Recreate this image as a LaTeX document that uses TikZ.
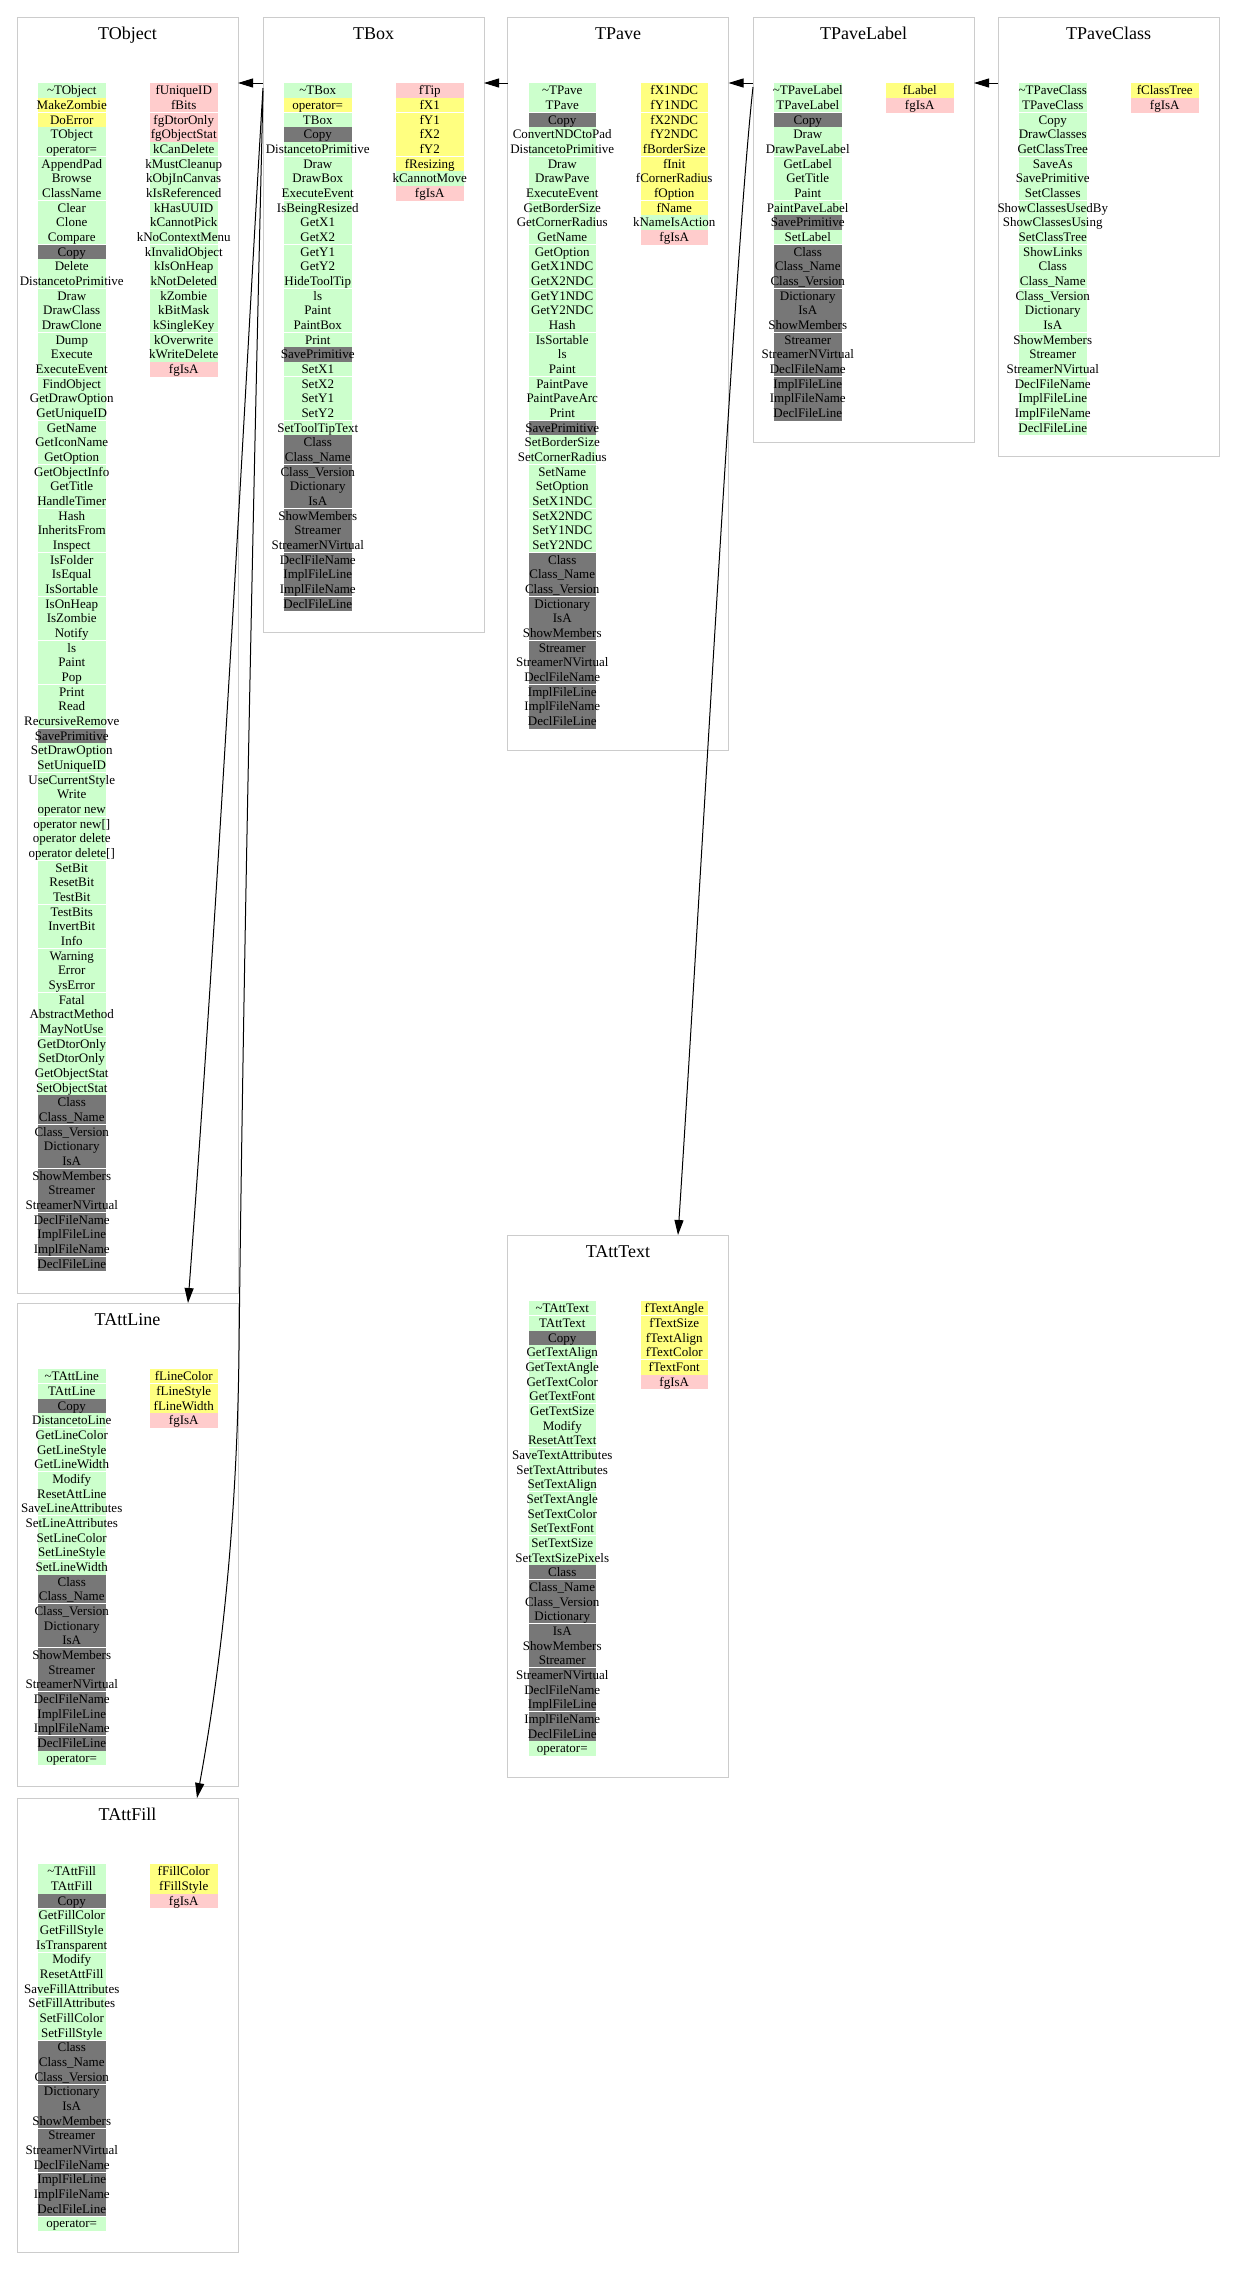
\documentclass[tikz,border=0pt]{standalone}
\usepackage{fontspec}
\setmainfont{Liberation Serif}
\usetikzlibrary{arrows.meta,calc}
\definecolor{gr}{HTML}{CCFFCC}
\definecolor{ye}{HTML}{FFFF80}
\definecolor{pk}{HTML}{FFCCCC}
\definecolor{dk}{HTML}{777777}
\definecolor{frm}{HTML}{CCCCCC}
\tikzset{
 classframe/.style={draw=frm, line width=1pt, inner sep=0pt, outer sep=0pt, minimum width=221pt, anchor=north west},
 classtitle/.style={font=\fontsize{18}{20}\selectfont, inner sep=0pt, anchor=base},
 cellbox/.style={inner sep=0pt, outer sep=0pt, minimum width=67.5pt, minimum height=14.67pt, draw=none},
 celltext/.style={font=\fontsize{13}{14}\selectfont, inner sep=0pt, anchor=base},
 cellsep/.style={white, line width=0.9pt},
 edge/.style={draw=black, line width=1pt, -{Triangle[length=15pt,width=9pt]}},
}
% name, left, top, rows, separator offset, methods, members
\newcommand\ClassBox[7]{%
  \pgfmathsetmacro\cbH{102.5+(#4-1)*14.67}%
  \node[classframe, minimum height=\cbH pt] (#1) at (#2,#3) {};
  \node[classtitle] (#1-title) at (#2+110.5,#3+22) {#1};
  \foreach[count=\ci] \mcol/\mtxt in {#6}{
    \pgfmathsetmacro\cy{#3+73.5+(\ci-1)*14.67}
    \node[cellbox, fill=\mcol] (#1-mc\ci) at (#2+54.75,\cy) {};
    \pgfmathtruncatemacro\cm{mod(\ci-1,3)}
    \ifnum\ci>1 \ifnum\cm=#5\relax
      \draw[cellsep] (#1-mc\ci.north west) -- (#1-mc\ci.north east);
    \fi\fi
    \node[celltext] (#1-mt\ci) at (#2+54.75,\cy+4.2) {\mtxt};
  }
  \foreach[count=\ci] \mcol/\mtxt in {#7}{
    \pgfmathsetmacro\cy{#3+73.5+(\ci-1)*14.67}
    \node[cellbox, fill=\mcol] (#1-fc\ci) at (#2+166.75,\cy) {};
    \pgfmathtruncatemacro\cm{mod(\ci-1,3)}
    \ifnum\ci>1 \ifnum\cm=#5\relax
      \draw[cellsep] (#1-fc\ci.north west) -- (#1-fc\ci.north east);
    \fi\fi
    \node[celltext] (#1-ft\ci) at (#2+166.75,\cy+4.2) {\mtxt};
  }
}
\begin{document}
\begin{tikzpicture}[x=1pt,y=-1pt]
\path[use as bounding box, fill=white] (0,0) rectangle (1235,2279);

\ClassBox{TObject}{17}{17}{81}{2}{gr/\textasciitilde TObject, ye/MakeZombie, ye/DoError, gr/TObject, gr/operator=, gr/AppendPad, gr/Browse, gr/ClassName, gr/Clear, gr/Clone, gr/Compare, dk/Copy, gr/Delete, gr/DistancetoPrimitive, gr/Draw, gr/DrawClass, gr/DrawClone, gr/Dump, gr/Execute, gr/ExecuteEvent, gr/FindObject, gr/GetDrawOption, gr/GetUniqueID, gr/GetName, gr/GetIconName, gr/GetOption, gr/GetObjectInfo, gr/GetTitle, gr/HandleTimer, gr/Hash, gr/InheritsFrom, gr/Inspect, gr/IsFolder, gr/IsEqual, gr/IsSortable, gr/IsOnHeap, gr/IsZombie, gr/Notify, gr/ls, gr/Paint, gr/Pop, gr/Print, gr/Read, gr/RecursiveRemove, dk/SavePrimitive, gr/SetDrawOption, gr/SetUniqueID, gr/UseCurrentStyle, gr/Write, gr/operator new, gr/{operator new[]}, gr/operator delete, gr/{operator delete[]}, gr/SetBit, gr/ResetBit, gr/TestBit, gr/TestBits, gr/InvertBit, gr/Info, gr/Warning, gr/Error, gr/SysError, gr/Fatal, gr/AbstractMethod, gr/MayNotUse, gr/GetDtorOnly, gr/SetDtorOnly, gr/GetObjectStat, gr/SetObjectStat, dk/Class, dk/Class\_Name, dk/Class\_Version, dk/Dictionary, dk/IsA, dk/ShowMembers, dk/Streamer, dk/StreamerNVirtual, dk/DeclFileName, dk/ImplFileLine, dk/ImplFileName, dk/DeclFileLine}{pk/fUniqueID, pk/fBits, pk/fgDtorOnly, pk/fgObjectStat, gr/kCanDelete, gr/kMustCleanup, gr/kObjInCanvas, gr/kIsReferenced, gr/kHasUUID, gr/kCannotPick, gr/kNoContextMenu, gr/kInvalidObject, gr/kIsOnHeap, gr/kNotDeleted, gr/kZombie, gr/kBitMask, gr/kSingleKey, gr/kOverwrite, gr/kWriteDelete, pk/fgIsA}

\ClassBox{TBox}{263}{17}{36}{2}{gr/\textasciitilde TBox, ye/operator=, gr/TBox, dk/Copy, gr/DistancetoPrimitive, gr/Draw, gr/DrawBox, gr/ExecuteEvent, gr/IsBeingResized, gr/GetX1, gr/GetX2, gr/GetY1, gr/GetY2, gr/HideToolTip, gr/ls, gr/Paint, gr/PaintBox, gr/Print, dk/SavePrimitive, gr/SetX1, gr/SetX2, gr/SetY1, gr/SetY2, gr/SetToolTipText, dk/Class, dk/Class\_Name, dk/Class\_Version, dk/Dictionary, dk/IsA, dk/ShowMembers, dk/Streamer, dk/StreamerNVirtual, dk/DeclFileName, dk/ImplFileLine, dk/ImplFileName, dk/DeclFileLine}{pk/fTip, ye/fX1, ye/fY1, ye/fX2, ye/fY2, ye/fResizing, gr/kCannotMove, pk/fgIsA}

\ClassBox{TPave}{507.5}{17}{44}{2}{gr/\textasciitilde TPave, gr/TPave, dk/Copy, gr/ConvertNDCtoPad, gr/DistancetoPrimitive, gr/Draw, gr/DrawPave, gr/ExecuteEvent, gr/GetBorderSize, gr/GetCornerRadius, gr/GetName, gr/GetOption, gr/GetX1NDC, gr/GetX2NDC, gr/GetY1NDC, gr/GetY2NDC, gr/Hash, gr/IsSortable, gr/ls, gr/Paint, gr/PaintPave, gr/PaintPaveArc, gr/Print, dk/SavePrimitive, gr/SetBorderSize, gr/SetCornerRadius, gr/SetName, gr/SetOption, gr/SetX1NDC, gr/SetX2NDC, gr/SetY1NDC, gr/SetY2NDC, dk/Class, dk/Class\_Name, dk/Class\_Version, dk/Dictionary, dk/IsA, dk/ShowMembers, dk/Streamer, dk/StreamerNVirtual, dk/DeclFileName, dk/ImplFileLine, dk/ImplFileName, dk/DeclFileLine}{ye/fX1NDC, ye/fY1NDC, ye/fX2NDC, ye/fY2NDC, ye/fBorderSize, ye/fInit, ye/fCornerRadius, ye/fOption, ye/fName, gr/kNameIsAction, pk/fgIsA}

\ClassBox{TPaveLabel}{753}{17}{23}{2}{gr/\textasciitilde TPaveLabel, gr/TPaveLabel, dk/Copy, gr/Draw, gr/DrawPaveLabel, gr/GetLabel, gr/GetTitle, gr/Paint, gr/PaintPaveLabel, dk/SavePrimitive, gr/SetLabel, dk/Class, dk/Class\_Name, dk/Class\_Version, dk/Dictionary, dk/IsA, dk/ShowMembers, dk/Streamer, dk/StreamerNVirtual, dk/DeclFileName, dk/ImplFileLine, dk/ImplFileName, dk/DeclFileLine}{ye/fLabel, pk/fgIsA}

\ClassBox{TPaveClass}{998}{17}{24}{2}{gr/\textasciitilde TPaveClass, gr/TPaveClass, gr/Copy, gr/DrawClasses, gr/GetClassTree, gr/SaveAs, gr/SavePrimitive, gr/SetClasses, gr/ShowClassesUsedBy, gr/ShowClassesUsing, gr/SetClassTree, gr/ShowLinks, gr/Class, gr/Class\_Name, gr/Class\_Version, gr/Dictionary, gr/IsA, gr/ShowMembers, gr/Streamer, gr/StreamerNVirtual, gr/DeclFileName, gr/ImplFileLine, gr/ImplFileName, gr/DeclFileLine}{ye/fClassTree, pk/fgIsA}

\ClassBox{TAttLine}{17}{1303}{27}{1}{gr/\textasciitilde TAttLine, gr/TAttLine, dk/Copy, gr/DistancetoLine, gr/GetLineColor, gr/GetLineStyle, gr/GetLineWidth, gr/Modify, gr/ResetAttLine, gr/SaveLineAttributes, gr/SetLineAttributes, gr/SetLineColor, gr/SetLineStyle, gr/SetLineWidth, dk/Class, dk/Class\_Name, dk/Class\_Version, dk/Dictionary, dk/IsA, dk/ShowMembers, dk/Streamer, dk/StreamerNVirtual, dk/DeclFileName, dk/ImplFileLine, dk/ImplFileName, dk/DeclFileLine, gr/operator=}{ye/fLineColor, ye/fLineStyle, ye/fLineWidth, pk/fgIsA}

\ClassBox{TAttFill}{17}{1798}{25}{0}{gr/\textasciitilde TAttFill, gr/TAttFill, dk/Copy, gr/GetFillColor, gr/GetFillStyle, gr/IsTransparent, gr/Modify, gr/ResetAttFill, gr/SaveFillAttributes, gr/SetFillAttributes, gr/SetFillColor, gr/SetFillStyle, dk/Class, dk/Class\_Name, dk/Class\_Version, dk/Dictionary, dk/IsA, dk/ShowMembers, dk/Streamer, dk/StreamerNVirtual, dk/DeclFileName, dk/ImplFileLine, dk/ImplFileName, dk/DeclFileLine, gr/operator=}{ye/fFillColor, ye/fFillStyle, pk/fgIsA}

\ClassBox{TAttText}{507.5}{1235}{31}{1}{gr/\textasciitilde TAttText, gr/TAttText, dk/Copy, gr/GetTextAlign, gr/GetTextAngle, gr/GetTextColor, gr/GetTextFont, gr/GetTextSize, gr/Modify, gr/ResetAttText, gr/SaveTextAttributes, gr/SetTextAttributes, gr/SetTextAlign, gr/SetTextAngle, gr/SetTextColor, gr/SetTextFont, gr/SetTextSize, gr/SetTextSizePixels, dk/Class, dk/Class\_Name, dk/Class\_Version, dk/Dictionary, dk/IsA, dk/ShowMembers, dk/Streamer, dk/StreamerNVirtual, dk/DeclFileName, dk/ImplFileLine, dk/ImplFileName, dk/DeclFileLine, gr/operator=}{ye/fTextAngle, ye/fTextSize, ye/fTextAlign, ye/fTextColor, ye/fTextFont, pk/fgIsA}

% inheritance edges
\draw[edge] ($(TBox.north west)+(0,66)$) -- ($(TObject.north east)+(0,66)$);
\draw[edge] ($(TPave.north west)+(0,66)$) -- ($(TBox.north east)+(0,66)$);
\draw[edge] ($(TPaveLabel.north west)+(0,66)$) -- ($(TPave.north east)+(0,66)$);
\draw[edge] ($(TPaveClass.north west)+(0,66)$) -- ($(TPaveLabel.north east)+(0,66)$);
\draw[edge] ($(TBox.north west)+(0,71)$) .. controls (250,300) and (222,850) .. ($(TAttLine.north west)+(171,0)$);
\draw[edge] ($(TBox.north west)+(0,74)$) .. controls (258,300) and (244,900) .. (239,1350) .. controls (237,1550) and (215,1700) .. ($(TAttFill.north west)+(180,0)$);
\draw[edge] ($(TPaveLabel.north west)+(0,70)$) .. controls (735,250) and (700,900) .. ($(TAttText.north west)+(170.5,0)$);
\end{tikzpicture}
\end{document}
